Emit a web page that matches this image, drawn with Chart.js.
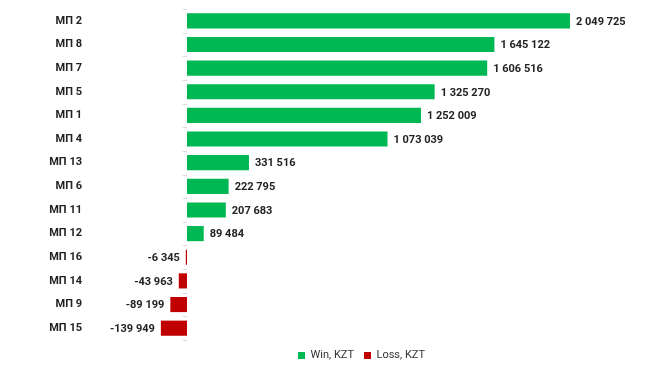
<!DOCTYPE html>
<html>
<head>
<meta charset="utf-8">
<script src="https://cdn.jsdelivr.net/npm/chart.js@4"></script>
<style>
  html, body { margin: 0; padding: 0; background: #fff; }
  canvas { display: block; }
</style>
</head>
<body>
<canvas id="BarChart" width="645" height="375"></canvas>
<script>
const labels = ['МП 2', 'МП 8', 'МП 7', 'МП 5', 'МП 1', 'МП 4', 'МП 13',
  'МП 6', 'МП 11', 'МП 12', 'МП 16', 'МП 14', 'МП 9', 'МП 15'];

const winValues = [2049725, 1645122, 1606516, 1325270, 1252009, 1073039, 331516,
  222795, 207683, 89484, null, null, null, null];

const lossValues = [null, null, null, null, null, null, null,
  null, null, null, -6345, -43963, -89199, -139949];

const fmt = v => String(Math.abs(v)).replace(/\B(?=(\d{3})+(?!\d))/g, ' ');

// value labels next to each bar
const valueLabels = {
  id: 'valueLabels',
  afterLayout(chart) {
    // legend sits a bit right of the canvas centre
    chart.legend.left += 39;
    chart.legend.right += 39;
  },
  afterDatasetsDraw(chart) {
    const ctx = chart.ctx;
    ctx.save();
    ctx.font = 'bold 11px Roboto';
    ctx.fillStyle = '#222';
    ctx.textBaseline = 'middle';
    chart.data.datasets.forEach((ds, i) => {
      chart.getDatasetMeta(i).data.forEach((bar, j) => {
        const v = ds.data[j];
        if (v === null) return;
        if (v >= 0) {
          ctx.textAlign = 'left';
          ctx.fillText(fmt(v), bar.x + 6, bar.y + 1);
        } else {
          ctx.textAlign = 'right';
          ctx.fillText('-' + fmt(v), bar.x - 6, bar.y + 1);
        }
      });
    });
    // little ticks left of the zero line
    const xs = chart.scales.x, ys = chart.scales.y;
    const x0 = xs.getPixelForValue(0);
    ctx.strokeStyle = '#d9d9d9';
    ctx.lineWidth = 1;
    for (let k = 0; k <= labels.length; k++) {
      const y = Math.round(ys.getPixelForValue(k - 0.5)) + 0.5;
      ctx.beginPath();
      ctx.moveTo(x0 - 4, y);
      ctx.lineTo(x0, y);
      ctx.stroke();
    }
    ctx.restore();
  }
};

const dataBar = {
  labels: labels,
  datasets: [{
    label: 'Win, KZT',
    backgroundColor: '#00b853',
    data: winValues,
  }, {
    label: 'Loss, KZT',
    backgroundColor: '#c00000',
    data: lossValues,
  }]
};

const configBar = {
  type: 'bar',
  data: dataBar,
  plugins: [valueLabels],
  options: {
    indexAxis: 'y',
    responsive: false,
    animation: false,
    categoryPercentage: 1,
    barPercentage: 0.64,
    layout: { padding: { left: 0, right: 0, top: 9, bottom: 4 } },
    scales: {
      x: {
        stacked: true,
        min: -198000,
        max: 2451000,
        ticks: { display: false },
        border: { display: false },
        grid: {
          drawTicks: false,
          color: c => c.tick && c.tick.value === 0 ? '#d9d9d9' : 'rgba(0,0,0,0)'
        }
      },
      y: {
        stacked: true,
        border: { display: false },
        grid: { display: false, drawTicks: false },
        ticks: {
          padding: 68,
          color: '#222',
          font: { family: 'Roboto', size: 11, weight: 'bold' }
        },
        afterFit(scale) {
          scale.width = 150;
          scale.paddingTop = 0;
          scale.paddingBottom = 0;
        }
      }
    },
    plugins: {
      tooltip: { enabled: false },
      legend: {
        position: 'bottom',
        labels: {
          boxWidth: 7,
          boxHeight: 7,
          padding: 10,
          color: '#333',
          font: { family: 'Roboto', size: 11 }
        }
      }
    }
  }
};

const barChart = new Chart(
  document.getElementById('BarChart'),
  configBar
);
</script>
</body>
</html>
